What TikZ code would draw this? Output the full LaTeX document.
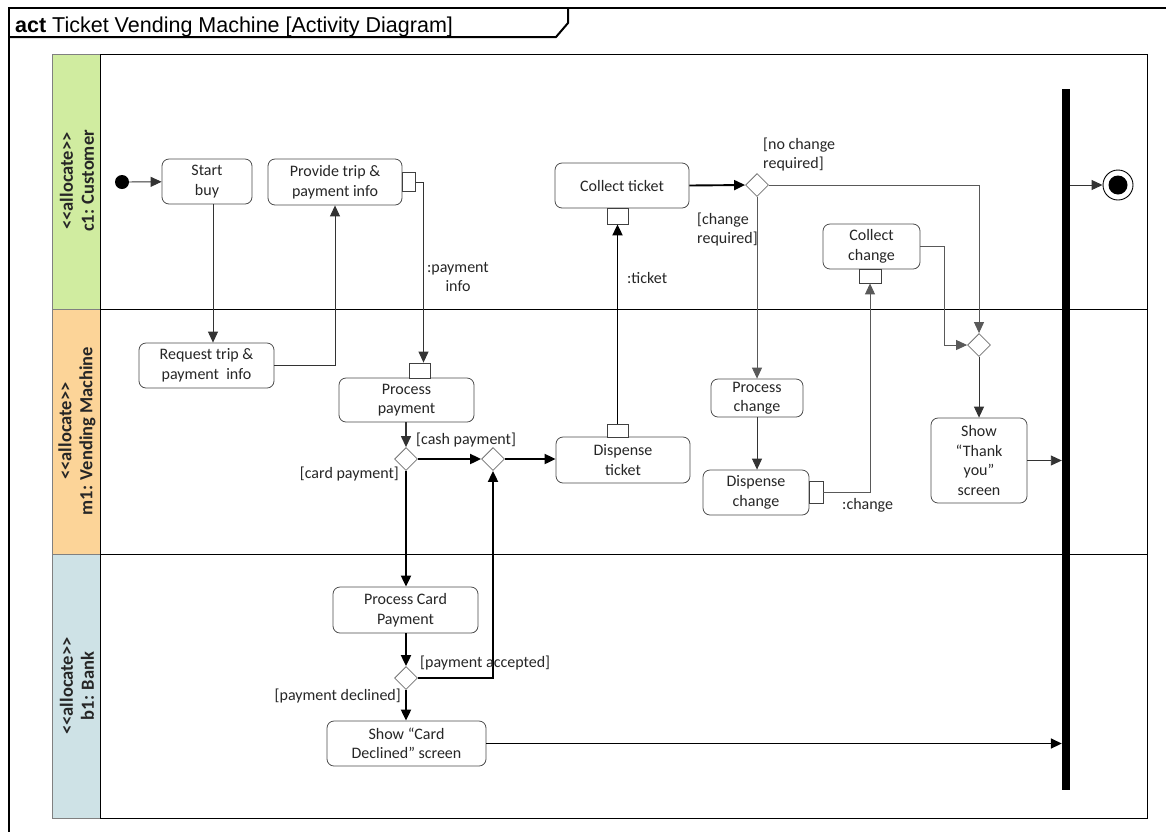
\documentclass[tikz,border=0pt]{standalone}
\usepackage{fontspec}
\setmainfont{Carlito}
\newfontfamily\titlefont{Liberation Sans}
\usetikzlibrary{arrows.meta,shapes.geometric,calc}

\definecolor{laneGreen}{RGB}{208,236,160}
\definecolor{laneOrange}{RGB}{252,212,152}
\definecolor{laneBlue}{RGB}{206,226,230}
\newcommand{\ltlt}{<\kern0pt<}
\newcommand{\gtgt}{>\kern0pt>}

\tikzset{
  actbox/.style={draw=black!70, line width=0.8pt, rounded corners=7pt, fill=white,
    align=center, inner sep=0pt, text=black!85, font=\fontsize{16}{19.5}\selectfont},
  portbox/.style={draw=black!75, line width=0.8pt, fill=white, inner sep=0pt},
  decnode/.style={diamond, draw=black!55, line width=0.8pt, fill=white, inner sep=0pt,
    minimum width=23pt, minimum height=23pt},
  lanehead/.style={draw=black!50, line width=0.8pt},
  lanebody/.style={draw=black, line width=0.8pt},
  lbl/.style={inner sep=0pt, text=black!85, font=\fontsize{16}{19}\selectfont, align=left},
  ln/.style={draw=black!80, line width=0.9pt, -{Triangle[length=11pt,width=10pt]}},
  lnb/.style={draw=black, line width=1.9pt, -{Triangle[length=11pt,width=10pt]}},
  headtxt/.style={rotate=90, align=center, text=black!85,
    font=\fontsize{18.5}{21}\selectfont\bfseries}
}

\begin{document}
\begin{tikzpicture}[x=1pt,y=-1pt]
\useasboundingbox (0,0) rectangle (1166,831);
\clip (0,0) rectangle (1166,831);

% diagram frame with its name tab
\draw[line width=2.6pt] (9,845) -- (9,8) -- (1180,8);
\draw[line width=2pt] (9,37) -- (556,37) -- (568,23) -- (568,8);
\node[anchor=base west, inner sep=0pt, font=\titlefont\fontsize{21.5}{24}\selectfont]
  (title) at (15,32) {\textbf{act} Ticket Vending Machine [Activity Diagram]};

% swimlanes
\filldraw[lanehead, fill=laneGreen]  (52,54)  rectangle (100,309);
\filldraw[lanehead, fill=laneOrange] (52,309) rectangle (100,554);
\filldraw[lanehead, fill=laneBlue]   (52,554) rectangle (100,818);
\draw[lanebody] (100,54) rectangle (1147,818);
\draw[lanebody] (100,309) -- (1147,309);
\draw[lanebody] (100,554) -- (1147,554);
\node[headtxt] (laneC) at (77,181) {\ltlt allocate\gtgt\\c1: Customer};
\node[headtxt] (laneM) at (77,431) {\ltlt allocate\gtgt\\m1: Vending Machine};
\node[headtxt] (laneB) at (77,686) {\ltlt allocate\gtgt\\b1: Bank};

% initial node, join bar and final node
\node[circle, fill=black, minimum size=14pt, inner sep=0pt] (init) at (122,182) {};
\node[fill=black, minimum width=8pt, minimum height=701pt, inner sep=0pt] (bar) at (1066,439.5) {};
\node[circle, draw=black, line width=0.9pt, fill=white, minimum size=30pt, inner sep=0pt] (final) at (1118,185) {};
\node[circle, fill=black, minimum size=19pt, inner sep=0pt] (finaldot) at (final) {};

% actions
\node[actbox, minimum width=90pt, minimum height=45pt] (start) at (207,181.5) {Start\\buy};
\node[actbox, minimum width=134pt, minimum height=46pt] (provide) at (335,182) {Provide trip \&\\payment info};
\node[portbox, minimum width=13pt, minimum height=19pt] (provpin) at (409,182) {};
\node[actbox, minimum width=135pt, minimum height=45pt] (request) at (206.5,365.5) {Request trip \&\\payment~ info};
\node[actbox, minimum width=135pt, minimum height=44pt] (procpay) at (406.5,400) {Process\\payment};
\node[portbox, minimum width=21pt, minimum height=15pt] (ppin) at (419.5,370.5) {};
\node[actbox, minimum width=134pt, minimum height=46pt] (dispt) at (623,460) {Dispense\\ticket};
\node[portbox, minimum width=21pt, minimum height=13pt] (dtpin) at (617.5,430.5) {};
\node[actbox, minimum width=134pt, minimum height=45pt] (collt) at (622,185.5) {Collect ticket};
\node[portbox, minimum width=21pt, minimum height=16pt] (ctpin) at (617.5,216) {};
\node[actbox, minimum width=97pt, minimum height=45pt] (collc) at (871.5,246.5) {Collect\\change};
\node[portbox, minimum width=22pt, minimum height=14pt] (ccpin) at (870,276) {};
\node[actbox, minimum width=92pt, minimum height=38pt] (procc) at (757,398) {Process\\change};
\node[actbox, minimum width=106pt, minimum height=45pt] (dispc) at (756,492.5) {Dispense\\change};
\node[portbox, minimum width=14pt, minimum height=22pt] (dcpin) at (816,492) {};
\node[actbox, minimum width=96pt, minimum height=85pt] (thank) at (979,460.5) {Show\\“Thank\\you”\\screen};
\node[actbox, minimum width=145pt, minimum height=46pt] (card) at (405.5,610) {Process Card\\Payment};
\node[actbox, minimum width=159pt, minimum height=45pt] (declined) at (406.5,743.5) {Show “Card\\Declined” screen};

% decision and merge nodes
\node[decnode] (d1) at (406,459) {};
\node[decnode] (d2) at (493,459) {};
\node[decnode] (d3) at (757,185) {};
\node[decnode] (m4) at (979,345) {};
\node[decnode] (d5) at (406,678) {};

% helper points for offset flow ends
\coordinate (sbout) at ($(start.south)+(6,0)$);
\coordinate (ppinin) at ($(ppin.north)+(4,0)$);

% control and object flows
\draw[ln] (init) -- (start);
\draw[ln] (sbout) -- (sbout |- request.north);
\draw[ln] (request.east) -| (provide.south);
\draw[ln] (provpin.east) -| (ppinin);
\draw[ln, line width=1.2pt] (procpay.south -| d1) -- (d1.north);
\draw[lnb] (d1.east) -- (d2.west);
\draw[lnb] (d2.east) -- (d2.east -| dispt.west);
\draw[lnb] (d1.south) -- (d1.south |- card.north);
\draw[lnb] (card.south -| d5) -- (d5.north);
\draw[lnb] (d5.south) -- (d5.south |- declined.north);
\draw[lnb] (d5.east) -| (d2.south);
\draw[lnb] (dtpin.north) -- (ctpin.south);
\draw[lnb] (collt.east) -- (d3.west);
\draw[ln, draw=black!65] (d3.east) -| (m4.north);
\draw[ln, draw=black!65] (d3.south) -- (d3.south |- procc.north);
\draw[ln] (procc.south) -- (procc.south |- dispc.north);
\draw[ln, draw=black!65] (dcpin.east) -| (ccpin.south);
\draw[ln, draw=black!65] (collc.east) -- ++(24,0) |- (m4.west);
\draw[ln] (m4.south) -- (thank.north);
\draw[ln] (thank.east) -- (thank.east -| bar.west);
\draw[lnb, line width=1.6pt] (declined.east) -- (declined.east -| bar.west);
\draw[ln] (final -| bar.east) -- (final.west);

% flow labels
\node[lbl, align=center] (lpay) at (458,277) {:payment\\info};
\node[lbl, anchor=west] (lcash) at (416,440) {[cash payment]};
\node[lbl, anchor=east] (lcard) at (399,474) {[card payment]};
\node[lbl, anchor=west] (lticket) at (627,278) {:ticket};
\node[lbl, anchor=west] (lnochg) at (763,155) {[no change\\required]};
\node[lbl, anchor=west] (lchg) at (697,229) {[change\\required]};
\node[lbl, anchor=west] (lchange) at (842,505) {:change};
\node[lbl, anchor=west] (lacc) at (420,663) {[payment accepted]};
\node[lbl, anchor=east] (ldec) at (401,696) {[payment declined]};
\end{tikzpicture}
\end{document}
